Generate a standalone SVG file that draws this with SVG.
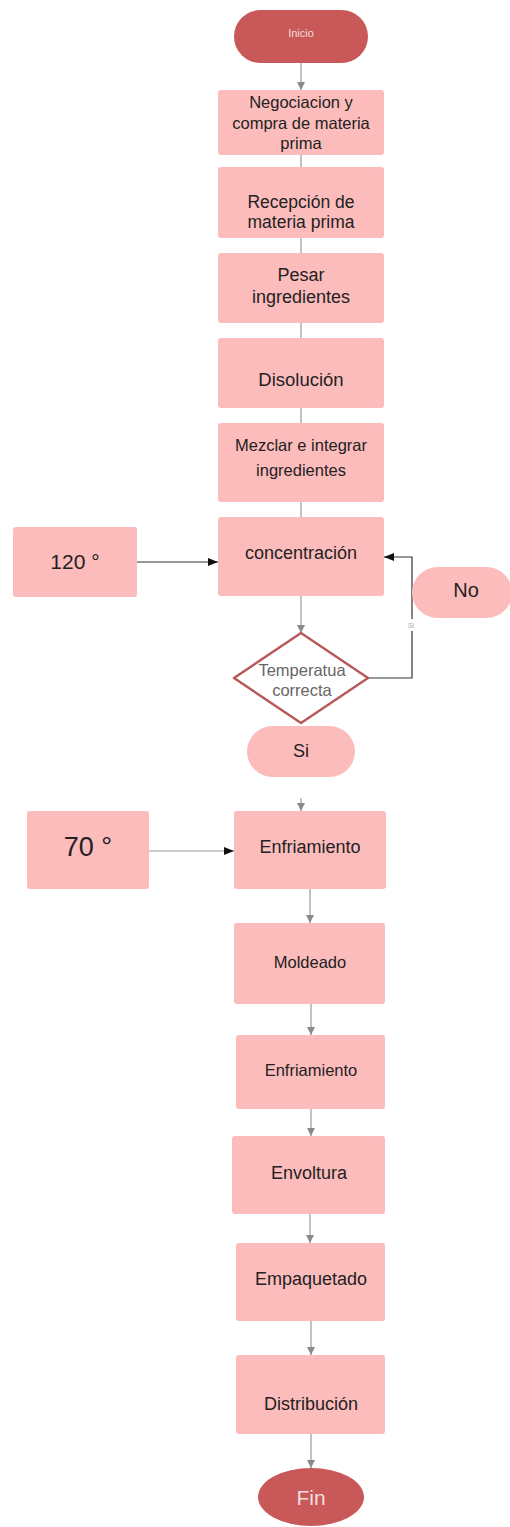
<svg xmlns="http://www.w3.org/2000/svg" width="510" height="1527" viewBox="0 0 510 1527">
<style>
.box{fill:#fdbcbc;}
.term{fill:#c95858;}
.t{font-family:"Liberation Sans",Arial,sans-serif;fill:#222;text-anchor:middle;}
.w{font-family:"Liberation Sans",Arial,sans-serif;fill:#f3dede;text-anchor:middle;}
.g{fill:none;stroke:#9a9a9a;stroke-width:1.2;}
.k{fill:none;stroke:#333;stroke-width:1.2;}
</style>
<defs>
<marker id="ag" viewBox="0 0 8 10" refX="8" refY="5" markerWidth="8" markerHeight="10" markerUnits="userSpaceOnUse" orient="auto"><path d="M0,1 L8,5 L0,9 Z" fill="#8a8a8a"/></marker>
<marker id="ak" viewBox="0 0 10 8" refX="10" refY="4" markerWidth="10" markerHeight="8" markerUnits="userSpaceOnUse" orient="auto"><path d="M0,0 L10,4 L0,8 Z" fill="#111"/></marker>
</defs>
<rect width="510" height="1527" fill="#fff"/>
<g id="connectors">
<line class="g" x1="301" y1="63" x2="301" y2="90" marker-end="url(#ag)"/>
<line class="g" x1="301" y1="155" x2="301" y2="167"/>
<line class="g" x1="301" y1="238" x2="301" y2="253"/>
<line class="g" x1="301" y1="323" x2="301" y2="338"/>
<line class="g" x1="301" y1="408" x2="301" y2="423"/>
<line class="g" x1="301" y1="502" x2="301" y2="517"/>
<line class="k" x1="137" y1="562" x2="218" y2="562" marker-end="url(#ak)"/>
<line class="g" x1="301" y1="596" x2="301" y2="633" marker-end="url(#ag)"/>
<polyline class="k" points="368,678 412,678 412,557 384,557" stroke="#555" marker-end="url(#ak)"/>
<rect x="405" y="619" width="13" height="12" fill="#fff"/>
<text x="411" y="628" font-family="Liberation Sans,Arial,sans-serif" font-size="7" fill="#aaa" text-anchor="middle">Si</text>
<line class="g" x1="301" y1="798" x2="301" y2="811" marker-end="url(#ag)"/>
<line class="g" x1="149" y1="851" x2="234" y2="851" stroke="#bbb" marker-end="url(#ak)"/>
<line class="g" x1="310" y1="889" x2="310" y2="923" marker-end="url(#ag)"/>
<line class="g" x1="311" y1="1004" x2="311" y2="1035" marker-end="url(#ag)"/>
<line class="g" x1="311" y1="1109" x2="311" y2="1136" marker-end="url(#ag)"/>
<line class="g" x1="310" y1="1214" x2="310" y2="1243" marker-end="url(#ag)"/>
<line class="g" x1="311" y1="1321" x2="311" y2="1355" marker-end="url(#ag)"/>
<line class="g" x1="311" y1="1434" x2="311" y2="1468" marker-end="url(#ag)"/>
</g>
<g id="inicio"><rect class="term" x="234" y="10" width="134" height="53" rx="26.5"/><text class="w" x="301" y="37" font-size="11">Inicio</text></g>
<g id="negociacion"><rect class="box" x="218" y="90" width="166" height="65" rx="3"/><text class="t" font-size="16.5"><tspan x="301" y="108">Negociacion y</tspan><tspan x="301" y="129">compra de materia</tspan><tspan x="301" y="149">prima</tspan></text></g>
<g id="recepcion"><rect class="box" x="218" y="167" width="166" height="71" rx="3"/><text class="t" font-size="17.5"><tspan x="301" y="208">Recepción de</tspan><tspan x="301" y="228">materia prima</tspan></text></g>
<g id="pesar"><rect class="box" x="218" y="253" width="166" height="70" rx="3"/><text class="t" font-size="18"><tspan x="301" y="281">Pesar</tspan><tspan x="301" y="303">ingredientes</tspan></text></g>
<g id="disolucion"><rect class="box" x="218" y="338" width="166" height="70" rx="3"/><text class="t" x="301" y="386" font-size="18.5">Disolución</text></g>
<g id="mezclar"><rect class="box" x="218" y="423" width="166" height="79" rx="3"/><text class="t" font-size="16.5"><tspan x="301" y="451">Mezclar e integrar</tspan><tspan x="301" y="476">ingredientes</tspan></text></g>
<g id="concentracion"><rect class="box" x="218" y="517" width="166" height="79" rx="3"/><text class="t" x="301" y="559" font-size="18">concentración</text></g>
<g id="t120"><rect class="box" x="13" y="527" width="124" height="70" rx="3"/><text class="t" x="75" y="569" font-size="21">120 °</text></g>
<g id="no"><rect class="box" x="412" y="567" width="100" height="51" rx="25.5"/><text class="t" x="466" y="597" font-size="20">No</text></g>
<g id="temperatura"><polygon points="301,633 368,678 301,723 234,678" fill="#fff" stroke="#b75a5a" stroke-width="2.5" stroke-linejoin="round"/><text font-family="Liberation Sans,Arial,sans-serif" fill="#666" text-anchor="middle" font-size="16.5"><tspan x="302" y="676">Temperatua</tspan><tspan x="302" y="696">correcta</tspan></text></g>
<g id="si"><rect class="box" x="247" y="726" width="108" height="51" rx="25.5"/><text class="t" x="301" y="757" font-size="18">Si</text></g>
<g id="enfriamiento1"><rect class="box" x="234" y="811" width="152" height="78" rx="3"/><text class="t" x="310" y="853" font-size="18">Enfriamiento</text></g>
<g id="t70"><rect class="box" x="27" y="811" width="122" height="78" rx="3"/><text class="t" x="88" y="856" font-size="27">70 °</text></g>
<g id="moldeado"><rect class="box" x="234" y="923" width="151" height="81" rx="3"/><text class="t" x="310" y="968" font-size="16.5">Moldeado</text></g>
<g id="enfriamiento2"><rect class="box" x="236" y="1035" width="149" height="74" rx="3"/><text class="t" x="311" y="1076" font-size="16.5">Enfriamiento</text></g>
<g id="envoltura"><rect class="box" x="232" y="1136" width="153" height="78" rx="3"/><text class="t" x="309" y="1179" font-size="18">Envoltura</text></g>
<g id="empaquetado"><rect class="box" x="236" y="1243" width="149" height="78" rx="3"/><text class="t" x="311" y="1285" font-size="18">Empaquetado</text></g>
<g id="distribucion"><rect class="box" x="236" y="1355" width="149" height="79" rx="3"/><text class="t" x="311" y="1410" font-size="18">Distribución</text></g>
<g id="fin"><ellipse class="term" cx="311" cy="1497" rx="53" ry="29"/><text class="w" x="311" y="1505" font-size="21">Fin</text></g>
</svg>
